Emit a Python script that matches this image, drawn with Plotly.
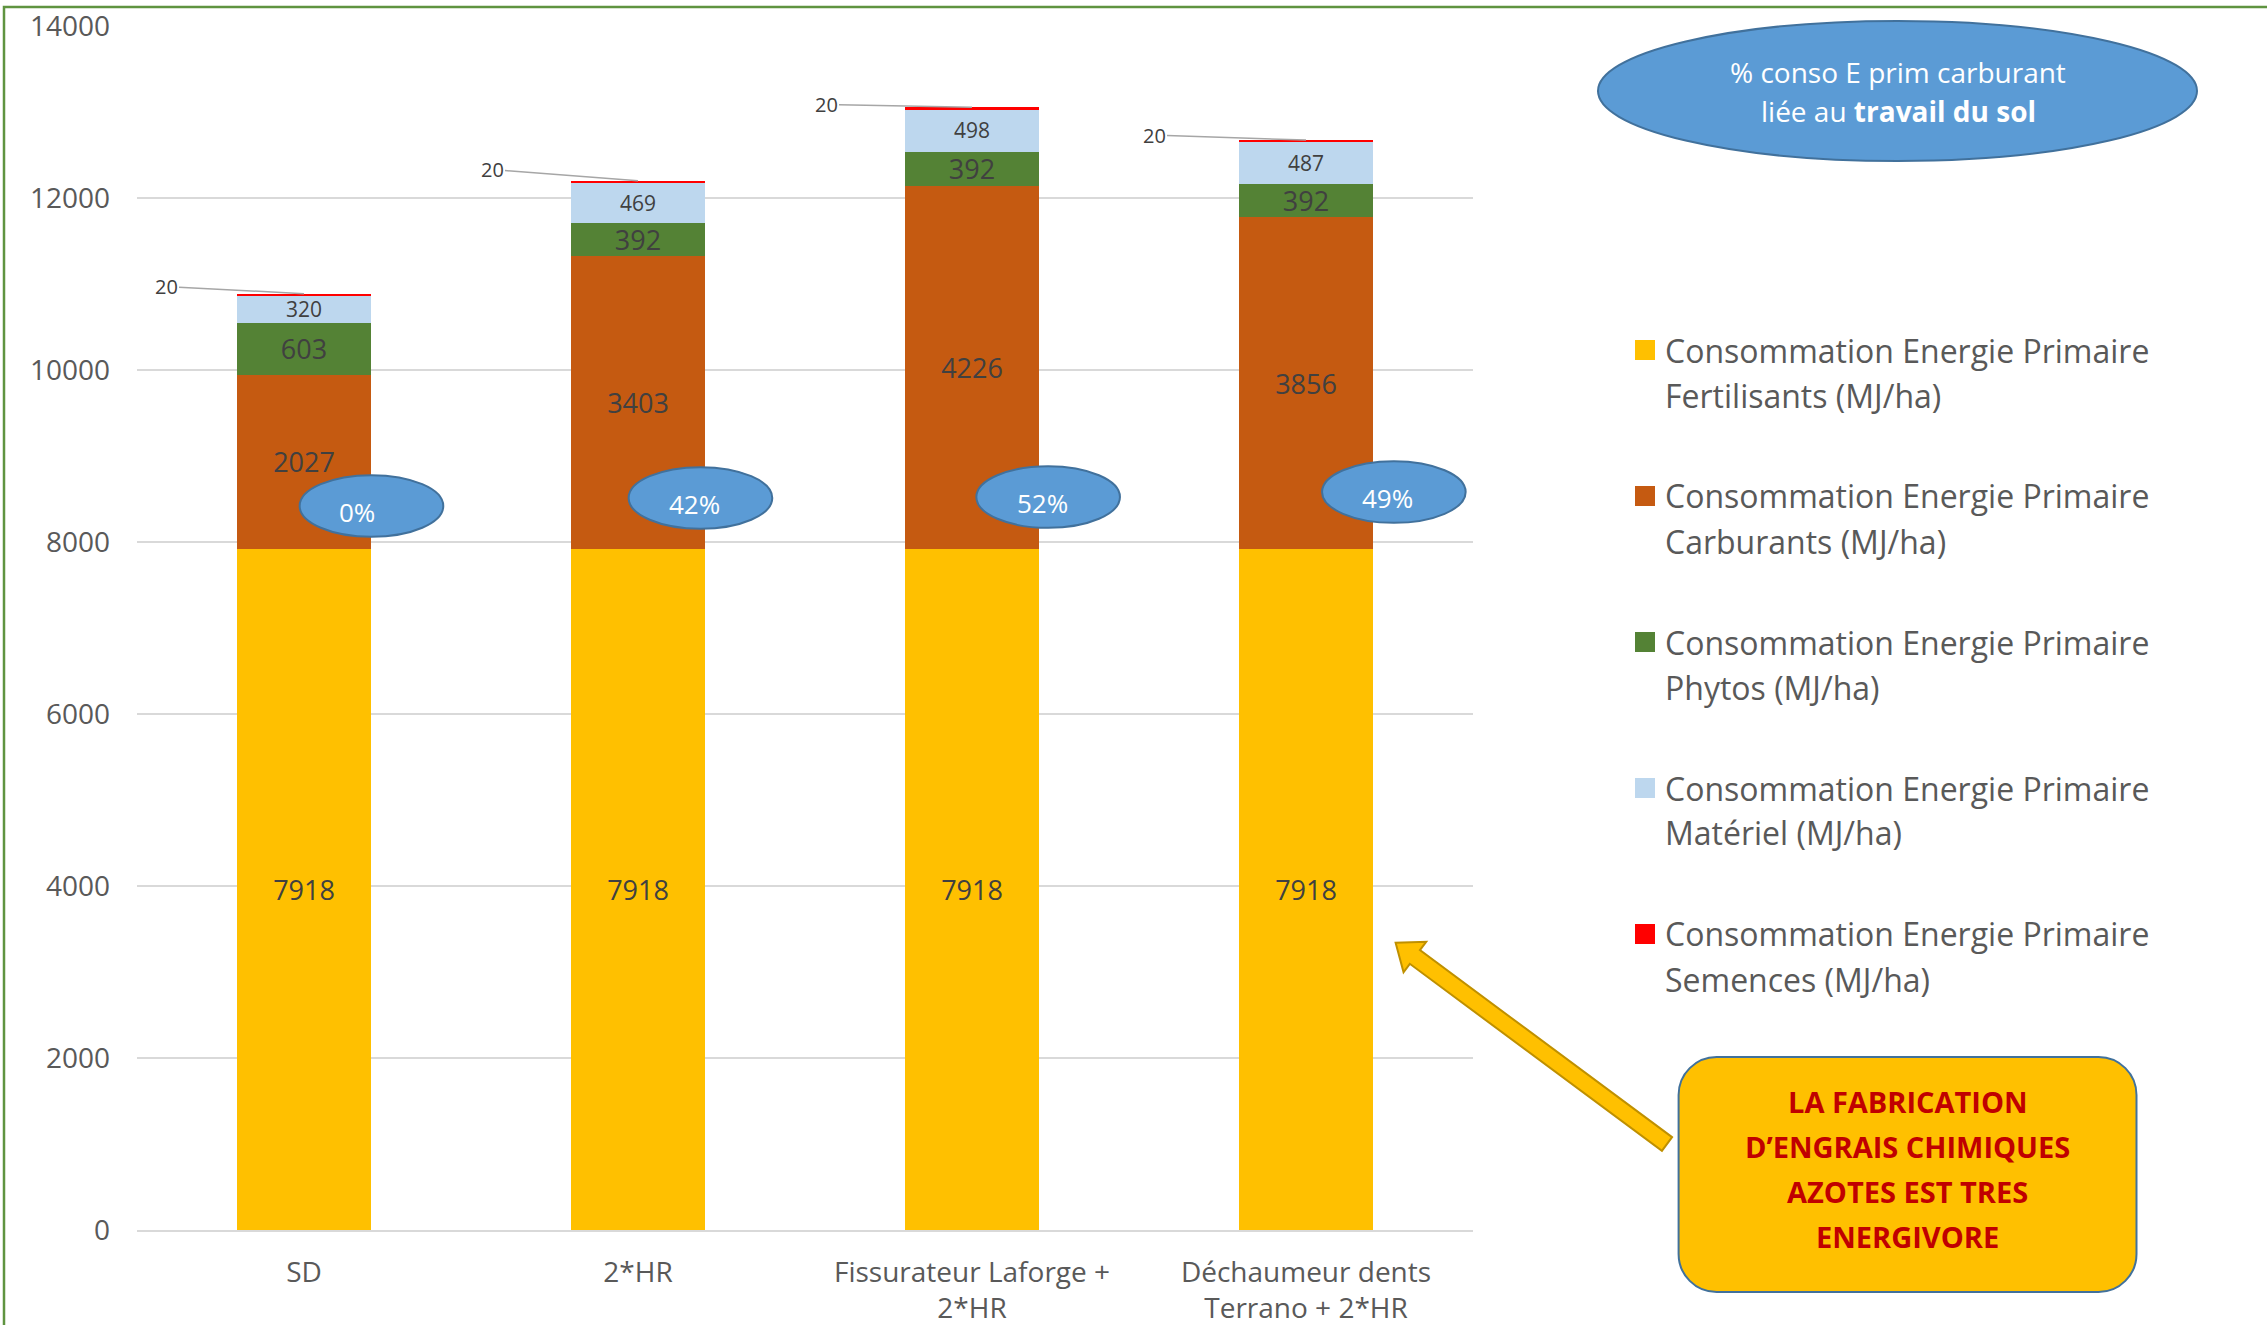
import math
import plotly.graph_objects as go

# ---------------- data ----------------
categories = ["SD", "2*HR", "Fissurateur Laforge +<br>2*HR", "Déchaumeur dents<br>Terrano + 2*HR"]
fertilisants = [7918, 7918, 7918, 7918]
carburants = [2027, 3403, 4226, 3856]
phytos = [603, 392, 392, 392]
materiel = [320, 469, 498, 487]
semences = [20, 20, 20, 20]
pct_travail_sol = ["0%", "42%", "52%", "49%"]
series_names = [
    "Consommation Energie Primaire Fertilisants (MJ/ha)",
    "Consommation Energie Primaire Carburants (MJ/ha)",
    "Consommation Energie Primaire Phytos (MJ/ha)",
    "Consommation Energie Primaire Matériel (MJ/ha)",
    "Consommation Energie Primaire Semences (MJ/ha)",
]
legend_lines = [
    ("Consommation Energie Primaire", "Fertilisants (MJ/ha)"),
    ("Consommation Energie Primaire", "Carburants (MJ/ha)"),
    ("Consommation Energie Primaire", "Phytos (MJ/ha)"),
    ("Consommation Energie Primaire", "Matériel (MJ/ha)"),
    ("Consommation Energie Primaire", "Semences (MJ/ha)"),
]
y_ticks = [0, 2000, 4000, 6000, 8000, 10000, 12000, 14000]
callout_lines = ["LA FABRICATION", "D’ENGRAIS CHIMIQUES", "AZOTES EST TRES", "ENERGIVORE"]

# ---------------- styles / layout constants ----------------
W_FIG, H_FIG = 2267, 1325
L, T, R, B = 137, 26, 794, 95
PW, PH = W_FIG - L - R, H_FIG - T - B
FONT = "Open Sans"
colors = ["#FFC000", "#C55A11", "#548235", "#BDD7EE", "#FF0000"]
label_sizes = [27, 27, 27, 21, None]
TXT = "#404040"
GREY = "#595959"


def pp(x, y):
    """pixel -> paper"""
    return (x - L) / PW, (T + PH - y) / PH


series = [fertilisants, carburants, phytos, materiel, semences]

fig = go.Figure()
for name, vals, col, fs in zip(series_names, series, colors, label_sizes):
    if fs:
        kw = dict(text=vals, texttemplate="%{text}", textposition="inside",
                  insidetextanchor="middle", textangle=0,
                  textfont=dict(size=fs, color=TXT, family=FONT))
    else:
        kw = dict(textposition="none")
    fig.add_trace(go.Bar(x=categories, y=vals, name=name, showlegend=False,
                         marker=dict(color=col, line=dict(width=0)),
                         constraintext="none", **kw))

shapes = []
annotations = []

# outer green frame
x0, y0 = pp(4, 7)
x1, y1 = pp(2290, 1345)
shapes.append(dict(type="rect", xref="paper", yref="paper", x0=x0, y0=y1, x1=x1, y1=y0,
                   line=dict(color="#5F9440", width=2.5), fillcolor="rgba(0,0,0,0)", layer="below"))

# labels for the thin "Semences" segment with leader lines
totals = [sum(v) for v in zip(*series)]
lab_ax = [-138, -146, -146, -152]
lab_ay = [-7, -11, -3, -5]
for i, (tot, s) in enumerate(zip(totals, semences)):
    annotations.append(dict(x=i, y=tot, xref="x", yref="y", text=str(s), showarrow=True,
                            arrowhead=0, arrowwidth=1.5, arrowcolor="#A6A6A6",
                            ax=lab_ax[i], ay=lab_ay[i], standoff=0,
                            font=dict(size=20, color=TXT, family=FONT)))

# small blue ellipses with percentages
ell_dx = [0.202, 0.187, 0.228, 0.263]
ell_y = [8419, 8512, 8523, 8581]
ell_tx = [-14, -6, -6, -6]
ell_hw, ell_hh = 0.215, 358
for i, p in enumerate(pct_travail_sol):
    cx = i + ell_dx[i]
    shapes.append(dict(type="circle", xref="x", yref="y", x0=cx - ell_hw, x1=cx + ell_hw,
                       y0=ell_y[i] - ell_hh, y1=ell_y[i] + ell_hh,
                       fillcolor="#5B9BD5", line=dict(color="#41719C", width=2), layer="above"))
    annotations.append(dict(x=cx, y=ell_y[i], xref="x", yref="y", text=p, showarrow=False,
                            xshift=ell_tx[i], yshift=-6,
                            font=dict(size=26, color="white", family=FONT)))

# big ellipse (top right)
ex0, ey0 = pp(1598, 21)
ex1, ey1 = pp(2197, 161)
shapes.append(dict(type="circle", xref="paper", yref="paper", x0=ex0, x1=ex1, y0=ey1, y1=ey0,
                   fillcolor="#5B9BD5", line=dict(color="#41719C", width=2)))
for txt, yy in [("% conso E prim carburant", 72), ("liée au <b>travail du sol</b>", 111)]:
    ax_, ay_ = pp(1898, yy)
    annotations.append(dict(x=ax_, y=ay_, xref="paper", yref="paper", text=txt, showarrow=False,
                            xanchor="center", yanchor="middle",
                            font=dict(size=28, color="white", family=FONT)))

# custom legend
for k, (l1, l2) in enumerate(legend_lines):
    yc = 350 + 146 * k
    sx0, sy0 = pp(1635, yc - 10)
    sx1, sy1 = pp(1655, yc + 10)
    shapes.append(dict(type="rect", xref="paper", yref="paper", x0=sx0, x1=sx1, y0=sy1, y1=sy0,
                       fillcolor=colors[k], line=dict(width=0)))
    for txt, yy in [(l1, yc), (l2, yc + 45)]:
        tx, ty = pp(1663, yy)
        annotations.append(dict(x=tx, y=ty, xref="paper", yref="paper", text=txt, showarrow=False,
                                xanchor="left", yanchor="middle",
                                font=dict(size=32, color=GREY, family=FONT)))

# yellow block arrow
tip = (1395.6, 942.7)
tail = (1667.0, 1144.0)
dx, dy = tip[0] - tail[0], tip[1] - tail[1]
ln = math.hypot(dx, dy)
ux, uy = dx / ln, dy / ln
nx, ny = -uy, ux
hl, hw, sw = 24, 19, 8.5
bx, by = tip[0] - ux * hl, tip[1] - uy * hl
pts = [
    (tail[0] + nx * sw, tail[1] + ny * sw),
    (bx + nx * sw, by + ny * sw),
    (bx + nx * hw, by + ny * hw),
    tip,
    (bx - nx * hw, by - ny * hw),
    (bx - nx * sw, by - ny * sw),
    (tail[0] - nx * sw, tail[1] - ny * sw),
]
path = ""
for j, (px, py) in enumerate(pts):
    qx, qy = pp(px, py)
    path += ("M" if j == 0 else "L") + f"{qx:.5f},{qy:.5f}"
path += "Z"
shapes.append(dict(type="path", xref="paper", yref="paper", path=path,
                   fillcolor="#FFC000", line=dict(color="#BF9000", width=2)))

# rounded callout box
bx0, by0, bx1, by1, rr = 1678.6, 1057.0, 2136.5, 1292.0, 38
kk = 0.5523


def P(x, y):
    a, b = pp(x, y)
    return f"{a:.5f},{b:.5f}"


box = (
    "M" + P(bx0 + rr, by0) + "L" + P(bx1 - rr, by0)
    + "C" + P(bx1 - rr + kk * rr, by0) + " " + P(bx1, by0 + rr - kk * rr) + " " + P(bx1, by0 + rr)
    + "L" + P(bx1, by1 - rr)
    + "C" + P(bx1, by1 - rr + kk * rr) + " " + P(bx1 - rr + kk * rr, by1) + " " + P(bx1 - rr, by1)
    + "L" + P(bx0 + rr, by1)
    + "C" + P(bx0 + rr - kk * rr, by1) + " " + P(bx0, by1 - rr + kk * rr) + " " + P(bx0, by1 - rr)
    + "L" + P(bx0, by0 + rr)
    + "C" + P(bx0, by0 + rr - kk * rr) + " " + P(bx0 + rr - kk * rr, by0) + " " + P(bx0 + rr, by0)
    + "Z"
)
shapes.append(dict(type="path", xref="paper", yref="paper", path=box,
                   fillcolor="#FFC000", line=dict(color="#41719C", width=2)))
for j, txt in enumerate(callout_lines):
    tx, ty = pp(1907.5, 1101.7 + 44.8 * j)
    annotations.append(dict(x=tx, y=ty, xref="paper", yref="paper", text=f"<b>{txt}</b>",
                            showarrow=False, xanchor="center", yanchor="middle",
                            font=dict(size=29, color="#C00000", family=FONT)))

fig.update_layout(
    width=W_FIG, height=H_FIG,
    margin=dict(l=L, r=R, t=T, b=B, pad=0, autoexpand=False),
    paper_bgcolor="white", plot_bgcolor="white",
    barmode="stack", bargap=0.6,
    font=dict(family=FONT, color=GREY),
    showlegend=False,
    shapes=shapes, annotations=annotations,
    xaxis=dict(showline=True, linecolor="#D9D9D9", linewidth=2, showgrid=False,
               tickfont=dict(size=28, color=GREY, family=FONT), ticks="",
               ticklabelstandoff=16, automargin=False),
    yaxis=dict(range=[0, 14000], tickvals=y_ticks, tickformat="d", showgrid=True,
               gridcolor="#D9D9D9", gridwidth=2, zeroline=False, showline=False,
               tickfont=dict(size=28, color=GREY, family=FONT), ticks="",
               ticklabelstandoff=26, automargin=False),
)

fig.write_html("out.html")
